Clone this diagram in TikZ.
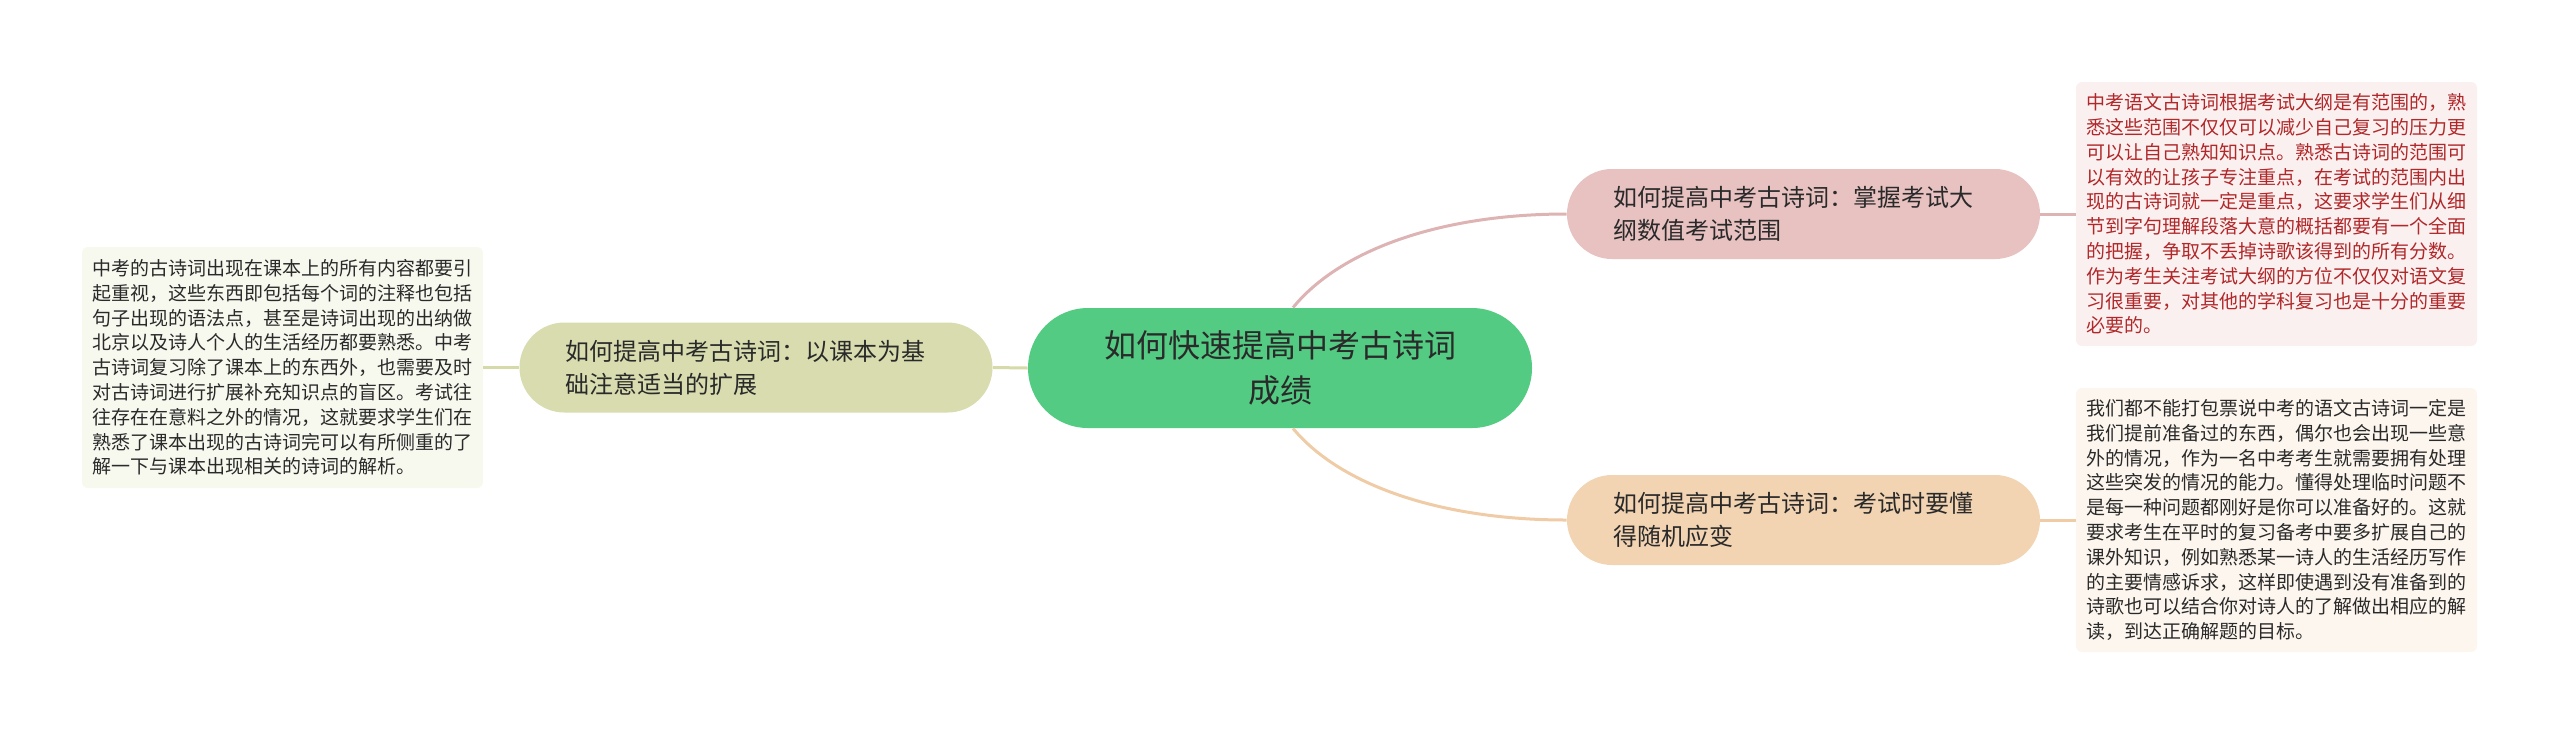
\documentclass[tikz,border=0pt]{standalone}
\usepackage{fontspec}
\newfontfamily\cjk{Noto Sans CJK SC}
\definecolor{cmain}{HTML}{53CB82}
\definecolor{cb1}{HTML}{E8C1C1}
\definecolor{cb2}{HTML}{F2D3B2}
\definecolor{cb3}{HTML}{D8DCAE}
\definecolor{cn1}{HTML}{FBF0F0}
\definecolor{cn2}{HTML}{FDF6EE}
\definecolor{cn3}{HTML}{F7F8EE}
\definecolor{cl1}{HTML}{DDB3B3}
\definecolor{cl2}{HTML}{EFCBA6}
\definecolor{cl3}{HTML}{D5DAA8}
\definecolor{redtext}{HTML}{B0282A}
\definecolor{darktext}{HTML}{2A2A2A}
\tikzset{
  mainbox/.style={fill=cmain, rounded corners=30pt, minimum width=252pt, minimum height=60pt, align=center, text=darktext, font=\cjk\fontsize{16pt}{22.5pt}\selectfont, inner sep=0pt},
  branchbox/.style={rounded corners=22.5pt, minimum width=236.5pt, minimum height=45pt, inner sep=0pt},
  branchtext/.style={anchor=west, align=left, text=darktext, font=\cjk\fontsize{12pt}{16.5pt}\selectfont, inner sep=0pt},
  notebox/.style={rounded corners=3pt, minimum width=200.5pt, align=left, font=\cjk\fontsize{9.5pt}{12.4pt}\selectfont, inner sep=0pt},
  conn/.style={line width=1.5pt}
}
\begin{document}
\begin{tikzpicture}[x=0.5pt,y=-0.5pt]
\useasboundingbox (0,0) rectangle (2560,736);
% central
\node[mainbox] (c) at (1280,368) {如何快速提高中考古诗词\\成绩};
% branches
\node[branchbox, fill=cb1] (b1) at (1803.5,214) {};
\node[branchtext] (t1) at (1613,214) {如何提高中考古诗词：掌握考试大\\纲数值考试范围};
\node[branchbox, fill=cb2] (b2) at (1803.5,520) {};
\node[branchtext] (t2) at (1613,520) {如何提高中考古诗词：考试时要懂\\得随机应变};
\node[branchbox, fill=cb3] (b3) at (756,367.5) {};
\node[branchtext] (t3) at (565,367.5) {如何提高中考古诗词：以课本为基\\础注意适当的扩展};
% notes
\node[notebox, fill=cn1, text=redtext, minimum height=132pt] (n1) at (2276.5,214) {中考语文古诗词根据考试大纲是有范围的，熟\\悉这些范围不仅仅可以减少自己复习的压力更\\可以让自己熟知知识点。熟悉古诗词的范围可\\以有效的让孩子专注重点，在考试的范围内出\\现的古诗词就一定是重点，这要求学生们从细\\节到字句理解段落大意的概括都要有一个全面\\的把握，争取不丢掉诗歌该得到的所有分数。\\作为考生关注考试大纲的方位不仅仅对语文复\\习很重要，对其他的学科复习也是十分的重要\\必要的。};
\node[notebox, fill=cn2, text=darktext, minimum height=132pt] (n2) at (2276.5,520) {我们都不能打包票说中考的语文古诗词一定是\\我们提前准备过的东西，偶尔也会出现一些意\\外的情况，作为一名中考考生就需要拥有处理\\这些突发的情况的能力。懂得处理临时问题不\\是每一种问题都刚好是你可以准备好的。这就\\要求考生在平时的复习备考中要多扩展自己的\\课外知识，例如熟悉某一诗人的生活经历写作\\的主要情感诉求，这样即使遇到没有准备到的\\诗歌也可以结合你对诗人的了解做出相应的解\\读，到达正确解题的目标。};
\node[notebox, fill=cn3, text=darktext, minimum height=120.5pt] (n3) at (282.5,367.5) {中考的古诗词出现在课本上的所有内容都要引\\起重视，这些东西即包括每个词的注释也包括\\句子出现的语法点，甚至是诗词出现的出纳做\\北京以及诗人个人的生活经历都要熟悉。中考\\古诗词复习除了课本上的东西外，也需要及时\\对古诗词进行扩展补充知识点的盲区。考试往\\往存在在意料之外的情况，这就要求学生们在\\熟悉了课本出现的古诗词完可以有所侧重的了\\解一下与课本出现相关的诗词的解析。};
% connectors
\begin{scope}[on background layer/.style={}]
\end{scope}
\draw[conn, cl1] ([xshift=6.5pt]c.north) .. controls (1340,250) and (1440,214) .. (b1.west);
\draw[conn, cl2] ([xshift=6.5pt]c.south) .. controls (1340,485) and (1440,520) .. (b2.west);
\draw[conn, cl3] (c.west) -- (b3.east);
\draw[conn, cl1] (b1.east) -- (n1.west);
\draw[conn, cl2] (b2.east) -- (n2.west);
\draw[conn, cl3] (n3.east) -- (b3.west);
\end{tikzpicture}
\end{document}
